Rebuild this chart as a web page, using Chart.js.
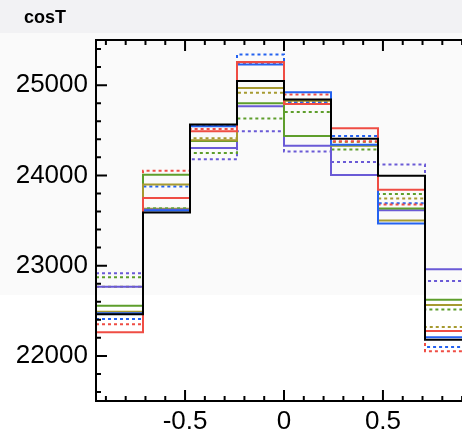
<!DOCTYPE html>
<html>
<head>
<meta charset="utf-8">
<script src="https://cdn.jsdelivr.net/npm/chart.js@4"></script>
<style>
    html, body { margin: 0; padding: 0; overflow: hidden; background: #ffffff; }
    canvas { display: block; }
</style>
</head>
<body>
<canvas id="cosTChart" width="472" height="437"></canvas>
<script>
// bin edges of the cosT histogram (8 bins)
var binEdges = [-0.95, -0.7125, -0.475, -0.2375, 0, 0.2375, 0.475, 0.7125, 0.95];
var yTickLabels = [22000, 23000, 24000, 25000];
var xTickLabels = [-0.5, 0, 0.5];

// contents per bin, one array per histogram
var blackSolid   = [22460, 23590, 24565, 25045, 24842, 24405, 23996, 22180];
var redSolid     = [22261, 23750, 24490, 25257, 24790, 24522, 23842, 22276];
var redDotted    = [22350, 24050, 24515, 25243, 24895, 24379, 23677, 22052];
var blueSolid    = [22471, 23610, 24545, 25228, 24920, 24340, 23467, 22206];
var blueDotted   = [22408, 23878, 24555, 25339, 24813, 24437, 23690, 22099];
var oliveSolid   = [22489, 23900, 24390, 24967, 24827, 24330, 23500, 22563];
var oliveDotted  = [22765, 23630, 24410, 24915, 24813, 24370, 23743, 22320];
var greenSolid   = [22555, 24007, 24381, 24798, 24437, 24330, 23632, 22621];
var greenDotted  = [22871, 23635, 24247, 24629, 24702, 24288, 23795, 22515];
var purpleSolid  = [22765, 23620, 24302, 24765, 24327, 24005, 23614, 22960];
var purpleDotted = [22915, 23625, 24180, 24490, 24265, 24148, 24120, 22830];

function histPoints(values) {
    var pts = values.map(function(v, i) { return { x: binEdges[i], y: v }; });
    pts.push({ x: binEdges[binEdges.length - 1], y: values[values.length - 1] });
    return pts;
}

function histDataset(values, color, dotted) {
    return {
        data: histPoints(values),
        borderColor: color,
        borderWidth: 2,
        borderDash: dotted ? [3, 3] : [],
        stepped: true,
        pointRadius: 0,
        fill: false
    };
}

// background bands, title, frame and inward ticks like the ROOT canvas
var rootStyle = {
    id: 'rootStyle',
    beforeDraw: function(chart) {
        var ctx = chart.ctx;
        ctx.save();
        ctx.fillStyle = '#ffffff';
        ctx.fillRect(0, 0, chart.width, chart.height);
        ctx.fillStyle = '#fafafa';
        ctx.fillRect(0, 33, chart.width, 262);
        ctx.fillStyle = '#f2f2f4';
        ctx.fillRect(0, 0, chart.width, 33);
        ctx.fillStyle = '#000000';
        ctx.font = 'bold 18px "Liberation Sans", Arial, sans-serif';
        ctx.textBaseline = 'middle';
        ctx.fillText('cosT', 24, 18);
        ctx.restore();
    },
    afterDraw: function(chart) {
        var ctx = chart.ctx;
        var area = chart.chartArea;
        var xs = chart.scales.x;
        var ys = chart.scales.y;
        ctx.save();
        ctx.strokeStyle = '#000000';
        ctx.lineWidth = 2;
        ctx.beginPath();
        ctx.rect(area.left, area.top, area.right - area.left, area.bottom - area.top);
        ctx.stroke();
        ctx.beginPath();
        for (var i = -9; i <= 9; i++) {
            var px = xs.getPixelForValue(i / 10);
            var len = (i % 5 === 0) ? 11 : 5;
            ctx.moveTo(px, area.bottom);
            ctx.lineTo(px, area.bottom - len);
            ctx.moveTo(px, area.top);
            ctx.lineTo(px, area.top + len);
        }
        for (var v = 21600; v <= 25400; v += 200) {
            var py = ys.getPixelForValue(v);
            var l = (v % 1000 === 0) ? 11 : 5;
            ctx.moveTo(area.left, py);
            ctx.lineTo(area.left + l, py);
        }
        ctx.stroke();
        ctx.restore();
    }
};

new Chart(document.getElementById('cosTChart').getContext('2d'), {
    type: 'line',
    data: {
        datasets: [
            histDataset(blackSolid, '#000000', false),
            histDataset(redSolid, '#ef4d44', false),
            histDataset(blueSolid, '#2462f0', false),
            histDataset(oliveSolid, '#a69a30', false),
            histDataset(greenSolid, '#5e9e2c', false),
            histDataset(purpleSolid, '#6a5ad6', false),
            histDataset(redDotted, '#ef4d44', true),
            histDataset(blueDotted, '#2462f0', true),
            histDataset(oliveDotted, '#a69a30', true),
            histDataset(greenDotted, '#5e9e2c', true),
            histDataset(purpleDotted, '#6a5ad6', true)
        ]
    },
    options: {
        responsive: false,
        animation: false,
        layout: { padding: { top: 40, right: 0, left: 0, bottom: 0 } },
        plugins: {
            legend: { display: false },
            tooltip: { enabled: false }
        },
        scales: {
            x: {
                type: 'linear',
                min: -0.95,
                max: 0.95,
                grid: { display: false, drawTicks: false },
                border: { display: false },
                afterFit: function(s) { s.height = 36; },
                afterBuildTicks: function(s) {
                    s.ticks = xTickLabels.map(function(v) { return { value: v }; });
                },
                ticks: {
                    color: '#000000',
                    padding: 5,
                    maxRotation: 0,
                    font: { family: '"Liberation Sans", Arial, sans-serif', size: 26 },
                    callback: function(v) { return String(v); }
                }
            },
            y: {
                min: 21500,
                max: 25500,
                grid: { display: false, drawTicks: false },
                border: { display: false },
                afterFit: function(s) { s.width = 96; },
                afterBuildTicks: function(s) {
                    s.ticks = yTickLabels.map(function(v) { return { value: v }; });
                },
                ticks: {
                    color: '#000000',
                    padding: 8,
                    font: { family: '"Liberation Sans", Arial, sans-serif', size: 26 },
                    callback: function(v) { return String(v); }
                }
            }
        }
    },
    plugins: [rootStyle]
});
</script>
</body>
</html>
